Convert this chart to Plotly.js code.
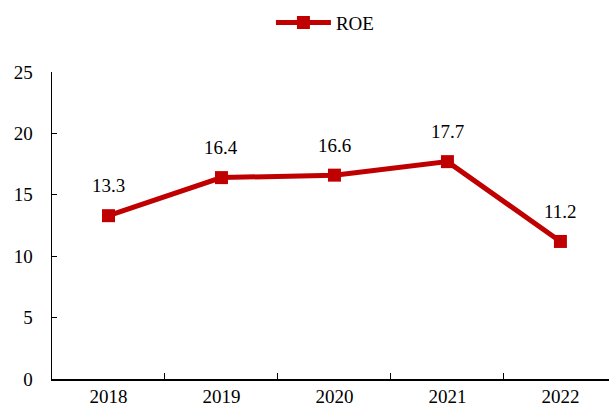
<!DOCTYPE html>
<html>
<head>
<meta charset="utf-8">
<script src="https://cdn.plot.ly/plotly-3.0.1.min.js"></script>
<style>html,body{margin:0;padding:0;background:#fff;}#chart{width:611px;height:414px;}</style>
</head>
<body>
<div id="chart"></div>
<script>
var years = ["2018", "2019", "2020", "2021", "2022"];
var roe = [13.3, 16.4, 16.6, 17.7, 11.2];
var seriesName = "ROE";
var yTicks = [0, 5, 10, 15, 20, 25];

function mkFont() {
  return {family: "Liberation Serif", size: 19, color: "#000000"};
}

var trace = {
  type: "scatter",
  mode: "lines+markers",
  x: years,
  y: roe,
  name: seriesName,
  line: {color: "#C00000", width: 5},
  marker: {color: "#C00000", symbol: "square", size: 13},
  cliponaxis: false
};

var annotations = [];
for (var i = 0; i < years.length; i++) {
  annotations.push({
    x: i, y: roe[i], xref: "x", yref: "y",
    text: roe[i].toFixed(1), showarrow: false,
    yshift: 30, yanchor: "middle", xanchor: "center", font: mkFont()
  });
}

var layout = {
  width: 611, height: 414,
  margin: {l: 52, r: 2, t: 72, b: 35, autoexpand: false},
  paper_bgcolor: "#fff", plot_bgcolor: "#fff",
  font: mkFont(),
  showlegend: true,
  legend: {orientation: "h", x: 0.49, xanchor: "center", xref: "paper",
           yref: "container", y: 0.945, yanchor: "middle",
           itemwidth: 55, font: mkFont()},
  xaxis: {type: "category", range: [-0.5, 4.43], showline: true, linecolor: "#000", linewidth: 1.5,
          ticks: "inside", tickson: "boundaries", ticklen: 6, tickcolor: "#000", tickwidth: 1,
          showgrid: false, zeroline: false, tickfont: mkFont(), automargin: false},
  yaxis: {range: [0, 25], tickvals: yTicks, showline: true, linecolor: "#000", linewidth: 1.5,
          ticks: "inside", ticklen: 5, tickcolor: "#000", tickwidth: 1,
          showgrid: false, zeroline: false, tickfont: mkFont(), ticklabelstandoff: 14, automargin: false},
  annotations: annotations
};

Plotly.newPlot("chart", [trace], layout, {staticPlot: true, displayModeBar: false});
</script>
</body>
</html>
